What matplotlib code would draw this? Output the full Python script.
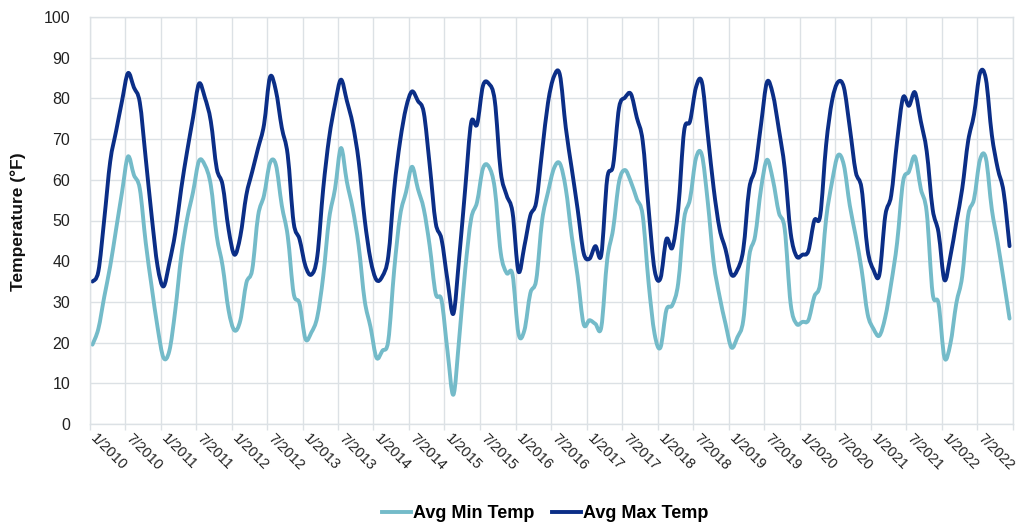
import numpy as np
import matplotlib
matplotlib.use("Agg")
import matplotlib.pyplot as plt
from matplotlib.path import Path
from matplotlib.patches import PathPatch
from matplotlib.lines import Line2D

# ==== Data (monthly, 1/2010 .. 12/2022) ====
years = list(range(2010, 2023))
months = [f"{m}/{y}" for y in years for m in range(1, 13)]

avg_max = [
    35.0, 37.5, 50.4, 64.5, 72.0, 79.4, 86.2, 82.7, 79.0, 65.3, 51.2, 38.8,   # 2010
    33.8, 39.6, 47.0, 57.8, 67.0, 75.3, 83.6, 80.2, 74.4, 62.8, 58.7, 47.9,   # 2011
    41.6, 46.2, 56.2, 62.0, 67.8, 73.6, 85.2, 81.9, 72.8, 66.1, 49.5, 45.4,   # 2012
    38.8, 36.7, 41.2, 57.8, 70.3, 78.6, 84.6, 79.4, 73.6, 64.5, 50.4, 40.4,   # 2013
    35.4, 36.3, 41.2, 57.8, 69.5, 77.7, 81.7, 79.4, 76.5, 63.6, 49.5, 45.4,   # 2014
    35.4, 27.1, 41.2, 57.8, 74.0, 73.6, 83.1, 83.6, 79.4, 62.0, 56.2, 52.0,   # 2015
    37.5, 43.7, 51.2, 54.5, 67.0, 79.0, 85.4, 85.8, 72.8, 62.8, 52.8, 42.1,   # 2016
    40.6, 43.7, 41.6, 60.3, 63.6, 77.7, 80.2, 81.1, 75.3, 69.5, 52.8, 37.9,   # 2017
    35.8, 45.4, 43.3, 52.8, 72.0, 74.4, 82.7, 84.0, 71.1, 57.8, 47.9, 42.9,   # 2018
    36.7, 37.9, 42.9, 57.8, 62.8, 73.6, 84.0, 81.0, 72.5, 62.8, 47.0, 41.2,   # 2019
    41.6, 42.5, 50.0, 51.2, 68.6, 79.4, 84.0, 82.7, 72.8, 62.0, 57.8, 42.9,   # 2020
    37.9, 36.7, 51.2, 56.2, 69.5, 80.2, 78.2, 81.5, 74.4, 67.0, 52.8, 47.0,   # 2021
    35.4, 41.2, 49.5, 57.8, 69.5, 76.1, 86.2, 84.8, 71.1, 62.8, 57.0, 43.7,   # 2022
]

avg_min = [
    19.5, 23.4, 31.3, 38.8, 47.9, 57.0, 65.7, 61.2, 57.8, 44.6, 33.8, 23.8,   # 2010
    16.3, 18.0, 28.0, 41.2, 50.4, 57.0, 64.6, 63.6, 58.7, 46.2, 38.8, 28.0,   # 2011
    23.0, 25.5, 34.6, 37.9, 51.2, 56.2, 64.1, 63.7, 53.7, 46.2, 32.1, 29.6,   # 2012
    20.9, 22.5, 26.3, 36.3, 50.4, 57.8, 67.8, 59.5, 52.8, 43.7, 30.4, 23.8,   # 2013
    16.3, 18.0, 20.5, 37.9, 51.2, 57.0, 63.2, 57.8, 52.8, 43.7, 32.1, 30.4,   # 2014
    18.0, 7.2, 21.3, 37.9, 50.4, 54.5, 62.8, 63.2, 57.8, 42.1, 37.1, 36.7,    # 2015
    22.2, 23.0, 32.1, 35.4, 50.0, 57.0, 62.8, 64.0, 57.8, 46.2, 36.3, 24.6,   # 2016
    25.5, 24.6, 23.8, 40.4, 47.9, 59.5, 62.4, 59.5, 55.3, 51.2, 34.6, 22.2,   # 2017
    18.8, 28.0, 29.2, 34.6, 50.4, 55.3, 65.3, 66.1, 54.5, 39.6, 31.3, 24.6,   # 2018
    18.8, 21.3, 25.5, 41.2, 46.2, 57.8, 64.9, 60.0, 52.0, 47.9, 29.6, 24.6,   # 2019
    25.1, 25.5, 31.3, 34.6, 50.4, 59.5, 66.0, 63.6, 53.7, 46.2, 37.9, 27.1,   # 2020
    23.4, 21.7, 26.3, 34.6, 44.6, 59.5, 62.0, 65.7, 57.8, 52.0, 32.1, 29.6,   # 2021
    16.3, 19.7, 29.6, 36.3, 51.2, 55.3, 64.9, 65.3, 52.8, 44.6, 35.4, 25.9,   # 2022
]

MIN_COLOR = "#74BBC9"
MAX_COLOR = "#0B2E87"
GRID_COLOR = "#DCE1E5"

plt.rcParams["font.family"] = ["Liberation Sans", "DejaVu Sans"]


def smooth_path(y):
    # excel-style smoothed line: cubic bezier segments through each point
    x = np.arange(len(y), dtype=float)
    y = np.asarray(y, dtype=float)
    pts = np.column_stack([x, y])
    verts = [pts[0]]
    codes = [Path.MOVETO]
    n = len(pts)
    for i in range(n - 1):
        p0 = pts[i - 1] if i > 0 else pts[i]
        p1 = pts[i]
        p2 = pts[i + 1]
        p3 = pts[i + 2] if i + 2 < n else pts[i + 1]
        c1 = p1 + (p2 - p0) / 6.0
        c2 = p2 - (p3 - p1) / 6.0
        verts += [c1, c2, p2]
        codes += [Path.CURVE4] * 3
    return Path(verts, codes)


fig = plt.figure(figsize=(10.21, 5.29), dpi=100)
ax = fig.add_axes([89.5 / 1021, 1 - 424 / 529, (1012.5 - 89.5) / 1021, (424 - 17) / 529])

for series, color in [(avg_min, MIN_COLOR), (avg_max, MAX_COLOR)]:
    patch = PathPatch(smooth_path(series), facecolor="none", edgecolor=color,
                      lw=2.8, capstyle="round", joinstyle="round")
    ax.add_patch(patch)

ax.set_xlim(-0.5, len(months) - 0.5)
ax.set_ylim(0, 100)
ax.set_yticks(range(0, 101, 10))

label_idx = list(range(0, len(months), 6))
ax.set_xticks(label_idx)
ax.set_xticklabels([months[i] for i in label_idx], rotation=-45, ha="left",
                   va="center", rotation_mode="anchor", fontsize=10.5, color="#222222")
ax.set_xticks(np.arange(-0.5, len(months), 6), minor=True)
ax.tick_params(axis="x", which="major", length=0, pad=9)
ax.tick_params(axis="x", which="minor", length=4, color=GRID_COLOR, width=1)
ax.tick_params(axis="y", length=0, pad=14, labelsize=11.5, labelcolor="#222222")

ax.grid(False)
ax.xaxis.grid(True, which="minor", color=GRID_COLOR, lw=1)
ax.yaxis.grid(True, which="major", color=GRID_COLOR, lw=1)
ax.set_axisbelow(True)
for s in ax.spines.values():
    s.set_color(GRID_COLOR)
    s.set_linewidth(1)

fig.text(18 / 1021, 1 - 222 / 529, "Temperature (°F)", rotation=90, ha="center",
         va="center", fontsize=12.5, fontweight="bold", color="#111111")

handles = [Line2D([], [], color=MIN_COLOR, lw=2.8),
           Line2D([], [], color=MAX_COLOR, lw=2.8)]
fig.legend(handles, ["Avg Min Temp", "Avg Max Temp"], loc="center",
           bbox_to_anchor=(545 / 1021, 1 - 514 / 529), ncol=2, frameon=False,
           handlelength=1.6, handletextpad=0.1, columnspacing=1.0,
           prop={"weight": "bold", "size": 13})

fig.savefig("out.png", dpi=100)
